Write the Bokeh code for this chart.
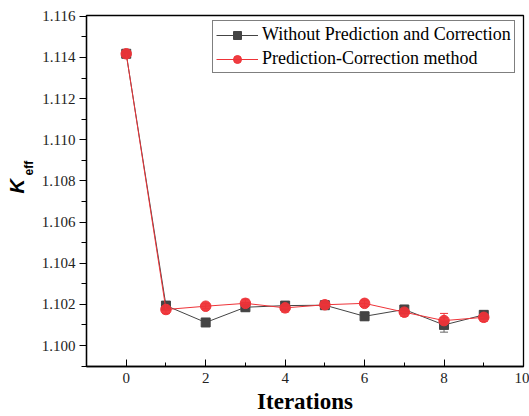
from bokeh.plotting import figure
from bokeh.models import (ColumnDataSource, Whisker, TeeHead, Legend, LegendItem,
                          SingleIntervalTicker, NumeralTickFormatter, Title, Range1d)
from bokeh.embed import file_html
from bokeh.resources import INLINE

# ---- data ----
iterations = [0, 1, 2, 3, 4, 5, 6, 7, 8, 9]
keff_without = [1.11418, 1.10194, 1.10112, 1.10186, 1.10194, 1.10196, 1.10142, 1.10175, 1.10100, 1.10149]
err_without = [0.00015, 0.0002, 0.00012, 0.0002, 0.0002, 0.0002, 0.0002, 0.0002, 0.00035, 0.0002]
keff_pc = [1.11418, 1.10175, 1.10191, 1.10205, 1.10183, 1.10198, 1.10205, 1.10162, 1.10121, 1.10137]
err_pc = [0.00015, 0.0002, 0.00012, 0.0002, 0.0002, 0.00018, 0.00015, 0.0002, 0.00035, 0.0002]
series_names = ["Without Prediction and Correction", "Prediction-Correction method"]

BLACK = "#444444"
RED = "#ee3338"
TICK_FONT = "Liberation Serif"

p = figure(width=529, height=416, output_backend="svg", toolbar_location=None,
           x_range=Range1d(-1.0, 10.0), y_range=Range1d(1.09898, 1.11604),
           min_border_left=86, min_border_right=6, min_border_top=15, min_border_bottom=20)
p.outline_line_color = "black"
p.outline_line_width = 1.3
p.grid.visible = False
p.background_fill_color = "white"
p.border_fill_color = "white"

src_w = ColumnDataSource(dict(x=iterations, y=keff_without,
                              lo=[v - e for v, e in zip(keff_without, err_without)],
                              hi=[v + e for v, e in zip(keff_without, err_without)]))
src_p = ColumnDataSource(dict(x=iterations, y=keff_pc,
                              lo=[v - e for v, e in zip(keff_pc, err_pc)],
                              hi=[v + e for v, e in zip(keff_pc, err_pc)]))

l1 = p.line("x", "y", source=src_w, line_color=BLACK, line_width=1)
p.add_layout(Whisker(source=src_w, base="x", lower="lo", upper="hi", line_color="#666666",
                     line_width=1,
                     upper_head=TeeHead(size=8, line_color="#666666"),
                     lower_head=TeeHead(size=8, line_color="#666666")))
s1 = p.scatter("x", "y", source=src_w, marker="square", size=9, fill_color=BLACK,
               line_color=BLACK)

l2 = p.line("x", "y", source=src_p, line_color=RED, line_width=1)
p.add_layout(Whisker(source=src_p, base="x", lower="lo", upper="hi", line_color=RED,
                     line_width=1,
                     upper_head=TeeHead(size=8, line_color=RED),
                     lower_head=TeeHead(size=8, line_color=RED)))
s2 = p.scatter("x", "y", source=src_p, marker="circle", size=10.5, fill_color=RED,
               line_color=RED, fill_alpha=0.95)

# axes
xa = p.xaxis[0]
xa.ticker = SingleIntervalTicker(interval=2, num_minor_ticks=2)
xa.major_tick_in = 7
xa.major_tick_out = 0
xa.minor_tick_in = 4
xa.minor_tick_out = 0
xa.axis_line_width = 1.3
xa.major_label_text_font = TICK_FONT
xa.major_label_text_font_size = "15px"
xa.major_label_text_color = "#222222"
xa.major_label_standoff = 6
xa.axis_label = "Iterations"
xa.axis_label_text_font = TICK_FONT
xa.axis_label_text_font_style = "bold"
xa.axis_label_text_font_size = "23px"
xa.axis_label_text_color = "black"
xa.axis_label_text_line_height = 0.6
xa.axis_label_standoff = 3

ya = p.yaxis[0]
ya.ticker = SingleIntervalTicker(interval=0.002, num_minor_ticks=2)
ya.formatter = NumeralTickFormatter(format="0.000")
ya.major_tick_in = 0
ya.major_tick_out = 7
ya.minor_tick_in = 0
ya.minor_tick_out = 5
ya.axis_line_width = 1.3
ya.major_label_text_font = TICK_FONT
ya.major_label_text_font_size = "15px"
ya.major_label_text_color = "#222222"
ya.major_label_standoff = 4

# y-axis label "K" with subscript "eff", as two side titles
p.add_layout(Title(text="eff", align="left", offset=191, standoff=6,
                   text_font="Liberation Sans", text_font_style="bold",
                   text_font_size="12px", text_color="black"), "left")
p.add_layout(Title(text="K", align="left", offset=173, standoff=-22,
                   text_font="Liberation Sans", text_font_style="bold italic",
                   text_font_size="20px", text_color="black"), "left")

legend = Legend(items=[LegendItem(label=series_names[0], renderers=[l1, s1]),
                       LegendItem(label=series_names[1], renderers=[l2, s2])],
                location=(126, 293))
legend.border_line_color = "black"
legend.border_line_width = 1
legend.label_text_font = TICK_FONT
legend.label_text_font_size = "18px"
legend.label_text_color = "black"
legend.glyph_width = 42
legend.glyph_height = 20
legend.label_height = 20
legend.label_standoff = 4
legend.spacing = 3
legend.padding = 3
legend.margin = 0
legend.background_fill_alpha = 1
p.add_layout(legend, "center")

open("out.html", "w").write(file_html(p, INLINE))
